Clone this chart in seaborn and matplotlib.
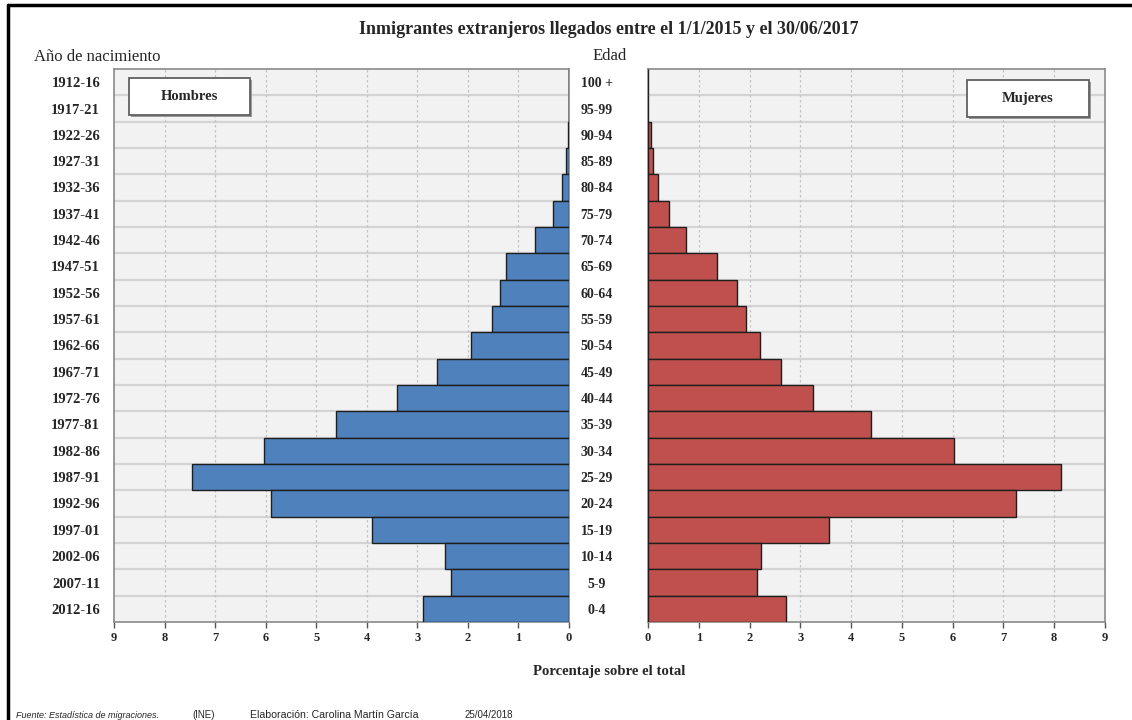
import matplotlib
matplotlib.use("Agg")
import matplotlib.pyplot as plt
import seaborn as sns
import pandas as pd
from matplotlib.patches import Rectangle
from matplotlib.lines import Line2D

ages = ["100 +", "95-99", "90-94", "85-89", "80-84", "75-79", "70-74", "65-69",
        "60-64", "55-59", "50-54", "45-49", "40-44", "35-39", "30-34", "25-29",
        "20-24", "15-19", "10-14", "5-9", "0-4"]
births = ["1912-16", "1917-21", "1922-26", "1927-31", "1932-36", "1937-41", "1942-46",
          "1947-51", "1952-56", "1957-61", "1962-66", "1967-71", "1972-76", "1977-81",
          "1982-86", "1987-91", "1992-96", "1997-01", "2002-06", "2007-11", "2012-16"]
hombres = [0.0, 0.0, 0.02, 0.06, 0.14, 0.32, 0.67, 1.24, 1.37, 1.52, 1.93, 2.61,
           3.41, 4.61, 6.03, 7.45, 5.89, 3.89, 2.46, 2.34, 2.89]
mujeres = [0.0, 0.0, 0.06, 0.09, 0.20, 0.41, 0.74, 1.35, 1.76, 1.93, 2.20, 2.61,
           3.24, 4.39, 6.03, 8.13, 7.24, 3.57, 2.23, 2.15, 2.71]
xticks = list(range(0, 10))

title = "Inmigrantes extranjeros llegados entre el 1/1/2015 y el 30/06/2017"

sns.set_theme(style="white")
plt.rcParams["font.family"] = ["Liberation Serif", "DejaVu Serif"]

df = pd.DataFrame({"edad": ages, "nac": births, "Hombres": hombres, "Mujeres": mujeres})

W, H = 1132, 720
fig = plt.figure(figsize=(W / 100, H / 100), dpi=100)

def px(x0, y0, x1, y1):
    return [x0 / W, 1 - y1 / H, (x1 - x0) / W, (y1 - y0) / H]

axL = fig.add_axes(px(114, 69, 569, 622))
axR = fig.add_axes(px(648, 69, 1105, 622))

bg = "#F2F2F2"
for ax, col, color in [(axL, "Hombres", "#4F81BD"), (axR, "Mujeres", "#C0504D")]:
    ax.set_facecolor(bg)
    sns.barplot(data=df, x=col, y="edad", ax=ax, color=color, width=1.0,
                edgecolor="#1e1e1e", linewidth=1.0, saturation=1.0, zorder=3)
    ax.set_xlim(0, 9)
    ax.set_ylim(len(ages) - 0.5, -0.5)
    ax.set_xticks(xticks)
    ax.set_xticklabels([str(t) for t in xticks], fontsize=9, fontweight="bold")
    ax.tick_params(axis="x", length=4, width=1, color="#555555", pad=3, direction="out", bottom=True)
    ax.tick_params(axis="y", length=0)
    for i in range(len(ages) - 1):
        ax.axhline(i + 0.5, color="#d4d4d4", lw=1.6, zorder=1)
    for t in xticks[1:-1]:
        ax.axvline(t, color="#c4c4c4", lw=0.9, ls=(0, (2, 2)), zorder=1)
    for s in ax.spines.values():
        s.set_color("#8a8a8a")
        s.set_linewidth(1.2)
    ax.set_xlabel("")
    ax.set_ylabel("")

axL.invert_xaxis()
axL.set_yticks(range(len(births)))
axL.set_yticklabels(births, fontsize=10.5, fontweight="bold")
axL.tick_params(axis="y", pad=10)

axR.set_yticks(range(len(ages)))
axR.set_yticklabels(ages, fontsize=10, fontweight="bold", ha="center")
axR.tick_params(axis="y", pad=37)

# legend-like boxes
def label_box(x0, y0, x1, y1, text):
    p = px(x0, y0, x1, y1)
    fig.patches.append(Rectangle((p[0] + 2 / W, p[1] - 2 / H), p[2], p[3], transform=fig.transFigure,
                                 facecolor="#9a9a9a", edgecolor="none", zorder=5))
    fig.patches.append(Rectangle((p[0], p[1]), p[2], p[3], transform=fig.transFigure,
                                 facecolor="white", edgecolor="#606060", lw=1.3, zorder=6))
    fig.text(p[0] + p[2] / 2, p[1] + p[3] / 2, text, ha="center", va="center",
             fontsize=10.5, fontweight="bold", zorder=7)

label_box(129, 78, 250, 115, "Hombres")
label_box(967, 80, 1089, 117, "Mujeres")

fig.text(609 / W, 1 - 30 / H, title, ha="center", va="center", fontsize=13, fontweight="bold")
fig.text(34 / W, 1 - 57 / H, "Año de nacimiento", ha="left", va="center", fontsize=12)
fig.text(610 / W, 1 - 56 / H, "Edad", ha="center", va="center", fontsize=12)
fig.text(609 / W, 1 - 672 / H, "Porcentaje sobre el total", ha="center", va="center",
         fontsize=10.6, fontweight="bold")

sans = ["Liberation Sans", "DejaVu Sans"]
fig.text(16 / W, 1 - 715 / H, "Fuente: Estadística de migraciones.", fontsize=6.5, style="italic",
         family=sans, va="center")
fig.text(192 / W, 1 - 715 / H, "(INE)", fontsize=7, family=sans, va="center")
fig.text(250 / W, 1 - 715 / H, "Elaboración: Carolina Martín García", fontsize=7.6, family=sans, va="center")
fig.text(465 / W, 1 - 715 / H, "25/04/2018", fontsize=7, family=sans, va="center")

# figure frame
fig.lines.append(Line2D([8 / W, 8 / W], [0, 1 - 5 / H], transform=fig.transFigure, color="black", lw=2.5))
fig.lines.append(Line2D([8 / W, 1], [1 - 5 / H, 1 - 5 / H], transform=fig.transFigure, color="black", lw=2.5))

fig.savefig("out.png", dpi=100, facecolor="white")
